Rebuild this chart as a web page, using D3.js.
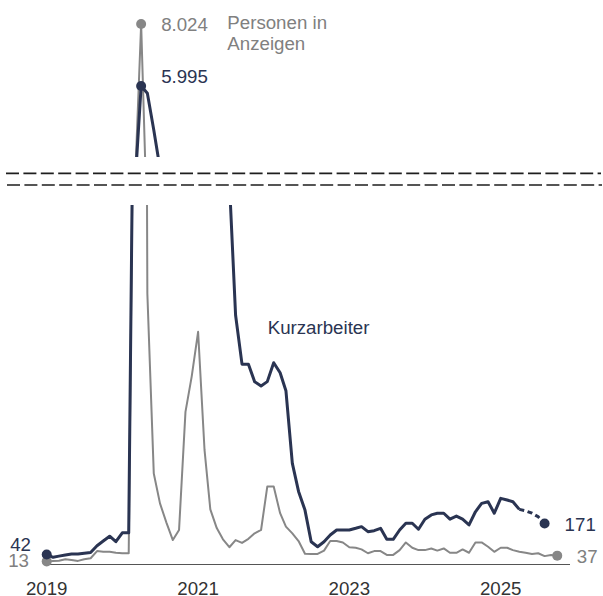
<!DOCTYPE html>
<html><head><meta charset="utf-8">
<script src="https://cdn.jsdelivr.net/npm/d3@7"></script>
<style>
body{margin:0;background:#fff;}
svg{display:block;font-family:"Liberation Sans",Arial,sans-serif;}
</style>
</head><body>
<svg id="c" width="603" height="596"></svg>
<script>
// Monthly values (thousands), starting January 2019
const startYear = 2019;
const anzeigen = [13,15,16,22,19,15,22,26,56,53,53,49,
  47,47,2600,8024,1130,380,255,175,102,144,637,784,
  971,478,230,152,105,72,102,90,107,130,144,325,
  325,214,158,130,98,45,44,44,58,98,98,92,
  72,70,63,47,56,56,40,40,60,92,70,60,
  60,67,58,67,49,49,63,49,92,92,74,53,
  70,70,60,53,49,44,47,35,40,37];
const kurzarbeiter = [42,30,35,40,44,44,47,50,78,98,118,95,
  132,132,2600,5995,5756,4555,3300,2550,2200,2000,2300,2400,
  3300,3400,2600,2300,2300,1600,1040,836,836,763,745,763,
  842,800,725,422,305,227,95,74,95,123,144,144,
  144,151,158,137,141,151,105,105,144,172,172,147,
  189,207,214,214,189,202,189,165,220,255,262,214,
  276,269,262,230,224,214,199,171];
const kurzDashedFrom = 75;
const tickYears = [2019,2021,2023,2025];
const tickLabels = ["2019","2021","2023","2025"];
const seriesNames = ["Personen in", "Anzeigen", "Kurzarbeiter"];
const peakIndex = 15;

const NAVY = "#2a3452", GRAY = "#878787", GRAYTXT = "#808080";
const FS = 18.7;
const de = d3.formatLocale({decimal:",", thousands:".", grouping:[3], currency:["","€"]});
const fmt = de.format(",");

const svg = d3.select("#c");
const date = i => new Date(startYear, i, 1);
const x = d3.scaleTime().domain([new Date(2019,0,1), new Date(2025,0,1)]).range([46.7, 500.7]);
const yLow = d3.scaleLinear().domain([0,1500]).range([564.5,205]);
const yUp = d3.scaleLinear().domain([3670,8350]).range([157,14]);

const defs = svg.append("defs");
defs.append("clipPath").attr("id","clipUp").append("rect").attr("x",0).attr("y",0).attr("width",603).attr("height",157);
defs.append("clipPath").attr("id","clipLow").append("rect").attr("x",0).attr("y",205).attr("width",603).attr("height",391);

const gray = anzeigen.map((v,i)=>({d:date(i),v}));
const navy = kurzarbeiter.map((v,i)=>({d:date(i),v}));
const navySolid = navy.slice(0, kurzDashedFrom+1);
const navyDash = navy.slice(kurzDashedFrom);

// axis baseline
svg.append("line").attr("x1",x(date(0))).attr("x2",570).attr("y1",yLow(0)).attr("y2",yLow(0))
  .attr("stroke","#555").attr("stroke-width",1);

[["clipUp",yUp],["clipLow",yLow]].forEach(([clip,ys])=>{
  const g = svg.append("g").attr("clip-path",`url(#${clip})`);
  const line = d3.line().x(p=>x(p.d)).y(p=>ys(p.v));
  g.append("path").attr("d",line(gray)).attr("fill","none").attr("stroke",GRAY).attr("stroke-width",2).attr("stroke-linejoin","round");
  g.append("path").attr("d",line(navySolid)).attr("fill","none").attr("stroke",NAVY).attr("stroke-width",3).attr("stroke-linejoin","round");
  g.append("path").attr("d",line(navyDash)).attr("fill","none").attr("stroke",NAVY).attr("stroke-width",3).attr("stroke-dasharray","5,3.5");
});

// axis break lines
[173.3,185].forEach((yy,k)=>{
  svg.append("line").attr("x1",6+k).attr("x2",601+k).attr("y1",yy).attr("y2",yy)
    .attr("stroke","#1e1e1e").attr("stroke-width",1.7).attr("stroke-dasharray","13,4.4");
});

// dots
const dots = [
  [gray[0], yLow, GRAY],[gray[gray.length-1], yLow, GRAY],[gray[peakIndex], yUp, GRAY],
  [navy[0], yLow, NAVY],[navy[navy.length-1], yLow, NAVY],[navy[peakIndex], yUp, NAVY]
];
dots.forEach(([p,ys,c])=>svg.append("circle").attr("cx",x(p.d)).attr("cy",ys(p.v)).attr("r",5).attr("fill",c));

const txt = (s,xx,yy,c,anchor)=>svg.append("text").attr("x",xx).attr("y",yy).attr("fill",c)
  .attr("font-size",FS).attr("text-anchor",anchor||"start").text(s);

// value labels
txt(fmt(anzeigen[peakIndex]), x(date(peakIndex))+20, yUp(anzeigen[peakIndex])+6.8, GRAYTXT);
txt(fmt(kurzarbeiter[peakIndex]), x(date(peakIndex))+20, yUp(kurzarbeiter[peakIndex])-2.5, NAVY);
txt(fmt(kurzarbeiter[0]), 31, yLow(kurzarbeiter[0])-3.2, NAVY, "end");
txt(fmt(anzeigen[0]), 29, yLow(anzeigen[0])+5.5, GRAYTXT, "end");
const nl = navy[navy.length-1], gl = gray[gray.length-1];
txt(fmt(nl.v), x(nl.d)+20, yLow(nl.v)+7, NAVY);
txt(fmt(gl.v), x(gl.d)+19.5, yLow(gl.v)+7, GRAYTXT);

// series labels
txt(seriesNames[0], 227.3, 28.5, GRAYTXT);
txt(seriesNames[1], 227.3, 49.5, GRAYTXT);
txt(seriesNames[2], 267.7, 333.5, NAVY);

// x tick labels
tickYears.forEach((yr,i)=>txt(tickLabels[i], x(new Date(yr,0,1)), 594.5, "#333", "middle"));
</script>
</body></html>
